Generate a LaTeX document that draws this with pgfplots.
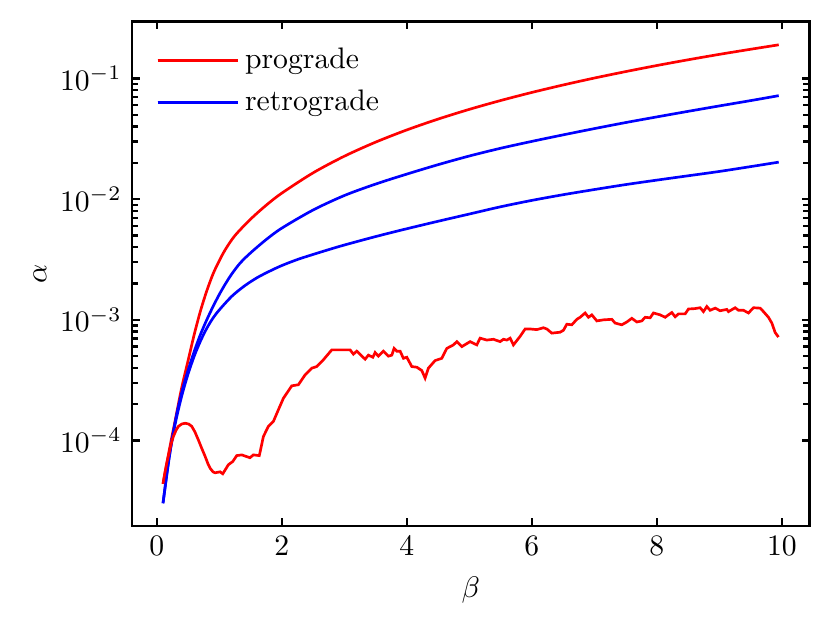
\documentclass[border=0pt]{standalone}
\usepackage{pgfplots}
\pgfplotsset{compat=1.18}
\begin{document}
\begin{tikzpicture}
\begin{axis}[
  name=ax,
  scale only axis,
  width=228.2pt, height=169.9pt,
  ymode=log,
  xmin=-0.395, xmax=10.44,
  ymin=1.96e-5, ymax=0.296,
  xtick={0,2,4,6,8,10},
  ytick={1e-4,1e-3,1e-2,1e-1},
  tick align=inside,
  major tick length=2.6pt,
  minor tick length=2.0pt,
  every tick/.style={black, line width=0.8pt},
  axis line style={line width=0.9pt},
  xlabel={$\beta$},
  ylabel={$\alpha$},
  xlabel style={at={(axis description cs:0.5,-0.127)}, anchor=center},
  ylabel style={at={(axis description cs:-0.136,0.5)}, anchor=center, rotate=0},
  legend style={draw=none, fill=none, at={(axis description cs:0.035,0.961)}, anchor=north west,
    inner sep=0pt, row sep=1.7pt, nodes={inner sep=2pt}},
  legend cell align=left,
  legend image code/.code={\draw[#1] (0pt,0pt) -- (21.3pt,0pt); \path (0pt,0pt) -- (27pt,0pt);},
]
% prograde, upper
\addplot[red, line width=0.9pt, smooth] coordinates {
(0.1,4.365e-5) (0.2,8.318e-5) (0.3,1.514e-4) (0.4,2.754e-4) (0.5,4.571e-4) (0.6,7.586e-4)
(0.7,1.189e-3) (0.8,1.738e-3) (0.9,2.399e-3) (1.0,3.090e-3) (1.1,3.846e-3) (1.25,4.989e-3)
(1.5,6.823e-3) (1.75,8.906e-3) (2.0,1.122e-2) (2.5,1.652e-2) (3.0,2.270e-2) (3.5,2.969e-2) (4.0,3.750e-2)
(4.5,4.611e-2) (5.0,5.552e-2) (5.5,6.571e-2) (6.0,7.667e-2) (6.5,8.839e-2) (7.0,0.1009)
(7.5,0.1141) (8.0,0.1282) (8.5,0.1430) (9.0,0.1586) (9.5,0.1748) (9.95,0.1903)
};
\addlegendentry{prograde}
% retrograde, upper
\addplot[blue, line width=0.9pt, smooth] coordinates {
(0.1,3.020e-5) (0.2,7.244e-5) (0.3,1.479e-4) (0.4,2.512e-4) (0.5,3.802e-4) (0.6,5.495e-4)
(0.7,7.586e-4) (0.8,1.0e-3) (0.9,1.288e-3) (1.0,1.622e-3) (1.1,1.995e-3) (1.2,2.399e-3)
(1.333,2.951e-3) (1.5,3.589e-3) (1.75,4.624e-3) (2.0,5.754e-3) (2.5,8.128e-3) (3.0,1.072e-2) (3.5,1.334e-2)
(4.0,1.614e-2) (4.5,1.932e-2) (5.0,2.280e-2) (5.5,2.642e-2) (6.0,3.013e-2) (6.5,3.412e-2)
(7.0,3.846e-2) (7.5,4.315e-2) (8.0,4.808e-2) (8.5,5.346e-2) (9.0,5.929e-2) (9.5,6.561e-2)
(9.95,7.211e-2)
};
\addlegendentry{retrograde}
% retrograde, lower
\addplot[blue, line width=0.9pt, smooth, forget plot] coordinates {
(0.1,3.020e-5) (0.2,7.413e-5) (0.3,1.413e-4) (0.4,2.344e-4) (0.5,3.548e-4) (0.6,5.012e-4)
(0.7,6.683e-4) (0.8,8.511e-4) (0.9,1.035e-3) (1.0,1.208e-3) (1.2,1.567e-3) (1.4,1.905e-3)
(1.6,2.228e-3) (1.8,2.523e-3) (2.0,2.818e-3) (2.25,3.162e-3) (2.5,3.483e-3) (2.75,3.819e-3)
(3.0,4.169e-3) (3.5,4.898e-3) (4.0,5.689e-3) (4.5,6.561e-3) (5.0,7.534e-3) (5.5,8.650e-3)
(6.0,9.772e-3) (6.5,1.089e-2) (7.0,1.202e-2) (7.5,1.321e-2) (8.0,1.439e-2) (8.5,1.563e-2)
(9.0,1.698e-2) (9.5,1.862e-2) (9.95,2.028e-2)
};
% prograde, lower (noisy)
\addplot[red, line width=0.9pt, forget plot] coordinates {
(0.100,4.4e-5) (0.130,5.4e-5) (0.160,6.5e-5) (0.200,8.0e-5) (0.233,9.5e-5) (0.266,1.08e-4)
(0.310,1.22e-4) (0.346,1.31e-4) (0.400,1.37e-4) (0.453,1.39e-4) (0.510,1.37e-4)
(0.560,1.31e-4) (0.610,1.18e-4) (0.666,1.01e-4) (0.720,8.6e-5) (0.773,7.4e-5)
(0.820,6.4e-5) (0.853,5.9e-5) (0.900,5.5e-5) (0.933,5.4e-5)
(1.013,5.5e-5) (1.056,5.3e-5) (1.146,6.3e-5) (1.216,6.7e-5) (1.280,7.5e-5)
(1.360,7.6e-5) (1.490,7.2e-5) (1.546,7.6e-5) (1.640,7.5e-5) (1.650,7.9e-5)
(1.706,1.08e-4) (1.786,1.31e-4) (1.866,1.44e-4) (1.946,1.8e-4) (2.026,2.24e-4)
(2.160,2.84e-4) (2.266,2.9e-4) (2.373,3.5e-4) (2.480,3.98e-4) (2.560,4.1e-4)
(2.666,4.67e-4) (2.800,5.64e-4) (3.093,5.64e-4) (3.146,5.2e-4) (3.200,5.5e-4)
(3.333,4.72e-4) (3.386,5.1e-4) (3.456,4.9e-4) (3.493,5.36e-4) (3.546,5.0e-4)
(3.626,5.5e-4) (3.706,5.0e-4) (3.760,5.1e-4) (3.797,5.8e-4) (3.840,5.5e-4)
(3.893,5.5e-4) (3.946,4.8e-4) (4.000,4.9e-4) (4.080,4.1e-4) (4.160,4.05e-4)
(4.240,3.8e-4) (4.293,3.29e-4) (4.346,3.98e-4) (4.453,4.6e-4) (4.560,4.8e-4)
(4.640,5.8e-4) (4.746,6.2e-4) (4.800,6.6e-4) (4.880,6.0e-4) (5.013,6.6e-4)
(5.120,6.2e-4) (5.173,7.05e-4) (5.280,6.8e-4) (5.386,6.9e-4) (5.493,6.6e-4)
(5.546,6.9e-4) (5.600,6.8e-4) (5.653,7.05e-4) (5.706,6.2e-4) (5.813,7.3e-4)
(5.893,8.4e-4) (5.973,8.4e-4) (6.080,8.3e-4) (6.186,8.6e-4) (6.240,8.4e-4)
(6.320,7.76e-4) (6.453,7.9e-4) (6.506,8.2e-4) (6.560,9.2e-4) (6.640,9.1e-4)
(6.720,1.01e-3) (6.773,1.05e-3) (6.853,1.14e-3) (6.906,1.05e-3) (6.960,1.1e-3)
(7.040,9.8e-4) (7.146,1.0e-3) (7.280,1.01e-3) (7.333,9.4e-4) (7.440,9.1e-4)
(7.520,9.6e-4) (7.600,1.03e-3) (7.680,9.6e-4) (7.760,9.8e-4) (7.813,1.05e-3)
(7.893,1.04e-3) (7.946,1.14e-3) (8.053,1.1e-3) (8.133,1.05e-3) (8.186,1.1e-3)
(8.240,1.15e-3) (8.293,1.06e-3) (8.346,1.12e-3) (8.453,1.12e-3) (8.506,1.23e-3)
(8.613,1.24e-3) (8.693,1.26e-3) (8.746,1.17e-3) (8.800,1.29e-3) (8.853,1.2e-3)
(8.933,1.25e-3) (9.013,1.19e-3) (9.120,1.22e-3) (9.146,1.17e-3) (9.253,1.26e-3)
(9.306,1.2e-3) (9.386,1.2e-3) (9.466,1.14e-3) (9.546,1.26e-3) (9.653,1.25e-3)
(9.706,1.17e-3) (9.786,1.05e-3) (9.840,9.4e-4) (9.893,7.85e-4) (9.946,7.2e-4)
};
\end{axis}
\path[use as bounding box] ([xshift=-44.5pt,yshift=-33.0pt]ax.south west) rectangle ([xshift=7.3pt,yshift=7.3pt]ax.north east);
\end{tikzpicture}
\end{document}
